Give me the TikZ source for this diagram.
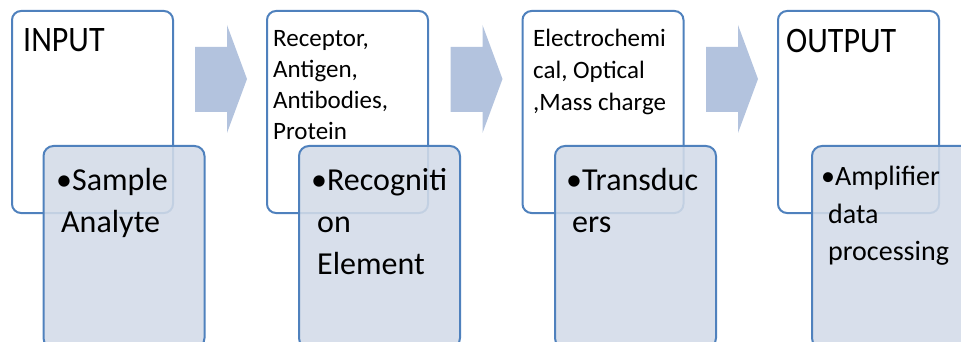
\documentclass[tikz,border=0pt]{standalone}
\usepackage{fontspec}
\setmainfont{Carlito}
\definecolor{edge}{HTML}{4F81BD}
\definecolor{bluefill}{HTML}{D3DBE8}
\definecolor{arrowfill}{HTML}{B3C3DE}
\newcommand{\tallhead}[1]{\scalebox{1}[1.12]{#1}}
\tikzset{
  whitebox/.style={draw=edge, line width=2pt, fill=white, rounded corners=9pt,
    minimum width=161pt, minimum height=202pt, inner sep=0pt},
  bluebox/.style={draw=edge, line width=2pt, fill=bluefill, fill opacity=0.88,
    rounded corners=10pt, minimum width=161pt, minimum height=202pt, inner sep=0pt},
  bigarrow/.style={fill=arrowfill, draw=none},
  txt/.style={anchor=base west, inner sep=0pt, text=black},
  head/.style={txt, font=\fontsize{32}{38}\selectfont},
  small/.style={txt, font=\fontsize{25}{30}\selectfont},
  bullet/.style={txt, font=\fontsize{32}{38}\selectfont},
  bulletsm/.style={txt, font=\fontsize{28}{34}\selectfont},
}
\begin{document}
\begin{tikzpicture}[x=1pt, y=-1pt]
\path[use as bounding box, clip] (0,0) rectangle (961,342);
% arrows
\foreach \ax/\nm in {195/a1, 450.5/a2, 706/a3}{
  \fill[bigarrow] (\ax,47) -- (\ax+32,47) -- (\ax+32,25) -- (\ax+52,79)
     -- (\ax+32,133) -- (\ax+32,112) -- (\ax,112) -- cycle;
}
% box 1
\node[whitebox] (w1) at (92.5,112) {};
\node[head] (t1) at (23,52) {\tallhead{INPUT}};
\node[bluebox] (b1) at (124,247) {};
\node[bullet] (s1a) at (56,190) {•Sample};
\node[bullet] (s1b) at (61,232) {Analyte};
% box 2
\node[whitebox] (w2) at (347.5,112) {};
\node[small] (t2a) at (273,47) {Receptor,};
\node[small] (t2b) at (273,78) {Antigen,};
\node[small] (t2c) at (273,109) {Antibodies,};
\node[small] (t2d) at (273,140) {Protein};
\node[bluebox] (b2) at (379.5,247) {};
\node[bullet] (s2a) at (311,190) {•Recogniti};
\node[bullet] (s2b) at (317,232) {on};
\node[bullet] (s2c) at (317,274) {Element};
% box 3
\node[whitebox] (w3) at (603,112) {};
\node[small] (t3a) at (533,47) {Electrochemi};
\node[small] (t3b) at (533,79) {cal, Optical};
\node[small] (t3c) at (533,111) {,Mass charge};
\node[bluebox] (b3) at (635.5,247) {};
\node[bullet] (s3a) at (566,190) {•Transduc};
\node[bullet] (s3b) at (572,232) {ers};
% box 4
\node[whitebox] (w4) at (858.5,112) {};
\node[head] (t4) at (786,53) {\tallhead{OUTPUT}};
\node[bluebox] (b4) at (892.5,247) {};
\node[bulletsm] (s4a) at (821,185) {•Amplifier};
\node[bulletsm] (s4b) at (828,223) {data};
\node[bulletsm] (s4c) at (828,260) {processing};
\end{tikzpicture}
\end{document}
